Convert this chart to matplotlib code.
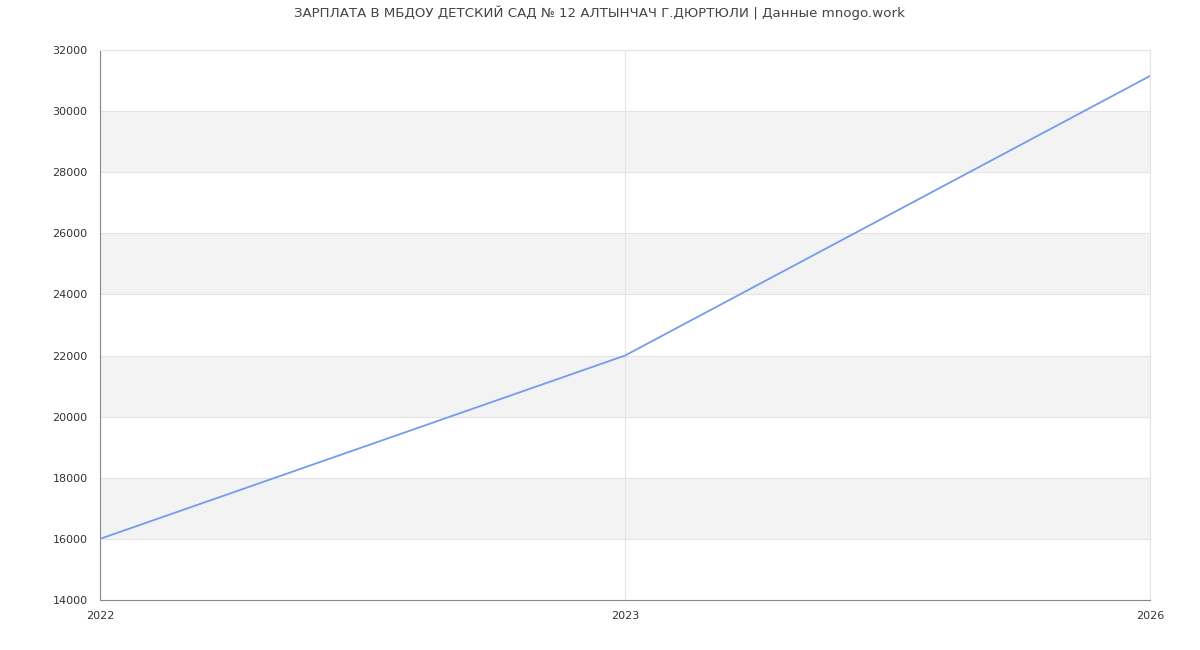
import matplotlib
matplotlib.use("Agg")
import matplotlib.pyplot as plt

# Data
years = ["2022", "2023", "2026"]
salary = [16000, 22000, 31150]
y_ticks = [14000, 16000, 18000, 20000, 22000, 24000, 26000, 28000, 30000, 32000]

fig = plt.figure(figsize=(12, 6.5), dpi=100)
ax = fig.add_axes([100 / 1200, 50 / 650, 1050 / 1200, 550 / 650])

x = list(range(len(years)))

# ------------------ Alternating bands
for lo in range(16000, 32000, 4000):
    ax.axhspan(lo, lo + 2000, color="#f3f3f3", zorder=0, lw=0)

ax.plot(x, salary, color="#739cf0", linewidth=1.3, zorder=3)

ax.set_xlim(0, len(years) - 1)
ax.set_ylim(14000, 32000)
ax.set_xticks(x)
ax.set_xticklabels(years)
ax.set_yticks(y_ticks)
ax.set_yticklabels([str(v) for v in y_ticks])

ax.grid(axis="both", color="#e4e4e4", linewidth=0.8, zorder=1)
ax.set_axisbelow(True)

for side in ["top", "right"]:
    ax.spines[side].set_color("#e4e4e4")
for side in ["left", "bottom"]:
    ax.spines[side].set_color("#888888")

ax.tick_params(length=0, labelsize=8, labelcolor="#333333")
ax.tick_params(axis="y", pad=9)
ax.tick_params(axis="x", pad=8)

fig.suptitle("ЗАРПЛАТА В МБДОУ ДЕТСКИЙ САД № 12 АЛТЫНЧАЧ Г.ДЮРТЮЛИ | Данные mnogo.work",
             x=599 / 1200, y=1 - 13 / 650, va="center", fontsize=9.65, color="#444444")

fig.savefig("out.png", dpi=100)
